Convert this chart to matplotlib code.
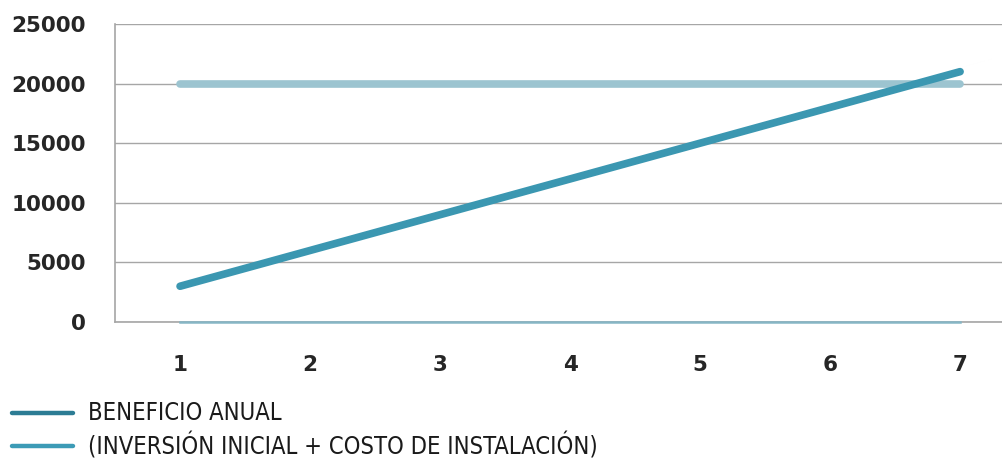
import matplotlib
matplotlib.use("Agg")
import matplotlib.pyplot as plt
from matplotlib.lines import Line2D

years = [1, 2, 3, 4, 5, 6, 7]
beneficio = [3000, 6000, 9000, 12000, 15000, 18000, 21000]
inversion = [20000, 20000, 20000, 20000, 20000, 20000, 20000]
base = [0, 0, 0, 0, 0, 0, 0]
legend_labels = ["BENEFICIO ANUAL", "(INVERSIÓN INICIAL + COSTO DE INSTALACIÓN)"]

fig = plt.figure(figsize=(10.03, 4.61), dpi=100)
ax = fig.add_axes([0.1147, 0.3015, 0.8853, 0.6465])

ax.plot(years, inversion, color="#9cc4d0", lw=5.5, solid_capstyle="round", zorder=3)
ax.plot(years, beneficio, color="#3b97b1", lw=5.5, solid_capstyle="round", zorder=4)
ax.plot(years, base, color="#86b6c5", lw=1.8, zorder=3, clip_on=False)

ax.set_xlim(0.5, 7.33)
ax.set_ylim(0, 25000)
ax.set_yticks(range(0, 25001, 5000))
ax.set_xticks(years)
ax.grid(axis="y", color="#a6a6a6", lw=1)
ax.set_axisbelow(True)
for s in ["top", "right"]:
    ax.spines[s].set_visible(False)
for s in ["left", "bottom"]:
    ax.spines[s].set_color("#a6a6a6")
    ax.spines[s].set_linewidth(1.2)
ax.tick_params(length=0, labelsize=15.5, labelcolor="#262626")
ax.tick_params(axis="x", pad=24)
ax.tick_params(axis="y", pad=21)
for lbl in ax.get_xticklabels() + ax.get_yticklabels():
    lbl.set_fontfamily("DejaVu Sans")
    lbl.set_fontweight("bold")

# legend drawn by hand below the chart
legend_colors = ["#2c7c94", "#3c9bb6"]
legend_y = [1 - 413 / 461, 1 - 446 / 461]
for lab, col, y in zip(legend_labels, legend_colors, legend_y):
    fig.add_artist(Line2D([12 / 1003, 73 / 1003], [y, y], transform=fig.transFigure,
                          color=col, lw=3.2, solid_capstyle="round"))
    fig.text(88 / 1003, y, lab, fontsize=17,
             fontfamily=["Liberation Sans Narrow", "DejaVu Sans"],
             fontstretch="condensed", color="#1a1a1a", va="center")

fig.savefig("out.png", dpi=100)
